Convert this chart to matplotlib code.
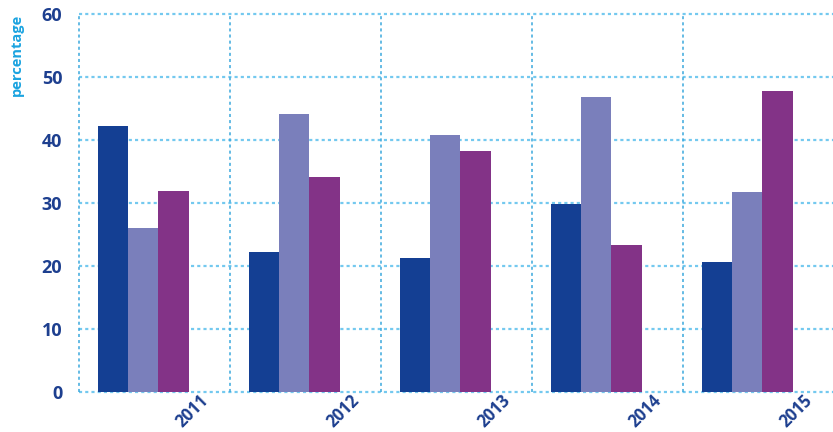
import matplotlib
matplotlib.use("Agg")
import matplotlib.pyplot as plt
import numpy as np

years = ["2011", "2012", "2013", "2014", "2015"]
series_a = [42.2, 22.2, 21.2, 29.8, 20.7]
series_b = [26.1, 44.1, 40.8, 46.9, 31.7]
series_c = [31.9, 34.1, 38.2, 23.3, 47.7]
y_ticks = [0, 10, 20, 30, 40, 50, 60]

colors = ["#143f93", "#7a7fbb", "#833387"]
text_color = "#1d3f8f"
grid_color = "#74c9ef"
vgrid_color = "#3aa8dd"

fig = plt.figure(figsize=(8.33, 4.32), dpi=100)
ax = fig.add_axes([79 / 833, 40 / 432, (834 - 79) / 833, (392 - 14) / 432])

x = np.arange(len(years))
width = 0.2
offsets = [-0.274, -0.074, 0.126]
for vals, off, col in zip([series_a, series_b, series_c], offsets, colors):
    ax.bar(x + off, vals, width=width, color=col, zorder=3, linewidth=0)

ax.set_xlim(-0.5, len(years) - 0.5)
ax.set_ylim(0, 60)

# dotted horizontal grid
for t in y_ticks:
    ax.axhline(t, color=grid_color, lw=1.6, ls=(0, (1.4, 1.4)), zorder=1, clip_on=False)
# dotted category separators
for b in np.arange(-0.5, len(years) + 0.5, 1.0):
    ax.axvline(b, color=vgrid_color, lw=1.1, ls=(0, (2.0, 2.0)), zorder=1, clip_on=False)

for s in ax.spines.values():
    s.set_visible(False)

ax.set_yticks(y_ticks)
ax.set_yticklabels([str(t) for t in y_ticks])
ax.set_xticks(x + 0.34)
ax.set_xticklabels(years)
ax.tick_params(axis="both", length=0, colors=text_color)
ax.tick_params(axis="y", pad=12)
ax.tick_params(axis="x", pad=4)
for lab in ax.get_yticklabels():
    lab.set_fontfamily("Open Sans")
    lab.set_fontweight("bold")
    lab.set_fontsize(13)
for lab in ax.get_xticklabels():
    lab.set_fontfamily("Open Sans")
    lab.set_fontweight("bold")
    lab.set_fontsize(12)
    lab.set_rotation(45)
    lab.set_ha("right")
    lab.set_va("center")
    lab.set_rotation_mode("anchor")

fig.text(17 / 833, 1 - 14 / 432, "percentage", rotation=90, ha="center", va="top",
         color="#1aa3e0", fontfamily="Open Sans", fontweight="bold", fontsize=10.5)

fig.savefig("out.png", dpi=100)
